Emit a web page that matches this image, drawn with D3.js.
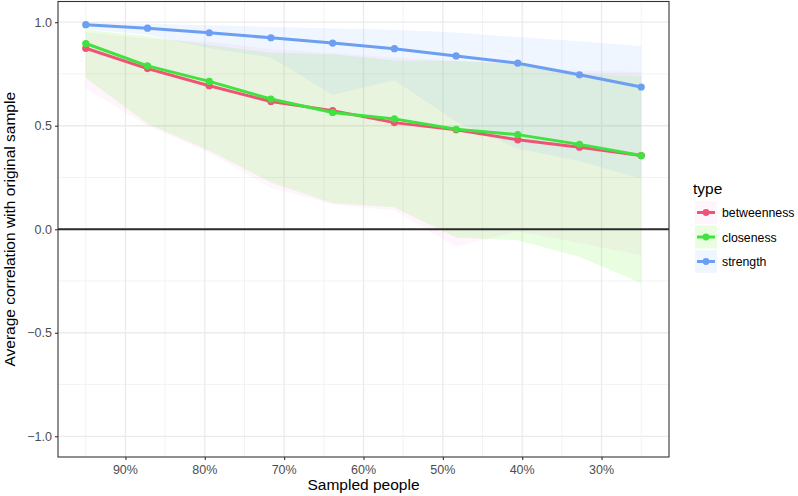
<!DOCTYPE html>
<html>
<head>
<meta charset="utf-8">
<script src="https://cdn.jsdelivr.net/npm/d3@7"></script>
<style>
  body { margin: 0; background: #fff; }
  svg { display: block; font-family: "Liberation Sans", Arial, sans-serif; }
</style>
</head>
<body>
<div id="chart"></div>
<script>
// sampled proportion of people (case-drop steps)
const sampled = [0.95, 0.8722, 0.7944, 0.7167, 0.6389, 0.5611, 0.4833, 0.4056, 0.3278, 0.25]
const types = ["betweenness", "closeness", "strength"]

// mean correlation per type
const betweennessMean = [0.874, 0.776, 0.693, 0.617, 0.573, 0.515, 0.480, 0.432, 0.396, 0.356]
const closenessMean   = [0.897, 0.789, 0.714, 0.629, 0.564, 0.533, 0.483, 0.457, 0.410, 0.356]
const strengthMean    = [0.988, 0.971, 0.949, 0.925, 0.899, 0.872, 0.837, 0.802, 0.746, 0.687]

// ribbon bounds
const betweennessLower = [0.68, 0.50, 0.37, 0.20, 0.12, 0.09, -0.085, -0.01, -0.067, -0.125]
const betweennessUpper = [0.95, 0.92, 0.905, 0.87, 0.85, 0.83, 0.815, 0.80, 0.765, 0.76]
const closenessLower   = [0.73, 0.51, 0.38, 0.226, 0.125, 0.106, -0.04, -0.053, -0.133, -0.26]
const closenessUpper   = [0.963, 0.932, 0.89, 0.853, 0.845, 0.815, 0.813, 0.797, 0.75, 0.74]
const strengthLower    = [0.966, 0.94, 0.875, 0.83, 0.65, 0.72, 0.52, 0.39, 0.33, 0.244]
const strengthUpper    = [1.0, 0.993, 0.985, 0.977, 0.97, 0.963, 0.95, 0.928, 0.908, 0.885]

const xTicks = [0.9, 0.8, 0.7, 0.6, 0.5, 0.4, 0.3]
const xMinor = [0.95, 0.85, 0.75, 0.65, 0.55, 0.45, 0.35, 0.25]
const yTicks = [-1, -0.5, 0, 0.5, 1]
const yMinor = [-0.75, -0.25, 0.25, 0.75]

const lineColors = {betweenness: "#EE5474", closeness: "#3FE23F", strength: "#6C9EF2"}
const fillColors = {betweenness: "#FF70D8", closeness: "#48EE08", strength: "#6AAEFF"}
const fillOpacity = {betweenness: 0.07, closeness: 0.12, strength: 0.11}

const series = types.map((t, i) => ({
    type: t,
    mean: [betweennessMean, closenessMean, strengthMean][i],
    lower: [betweennessLower, closenessLower, strengthLower][i],
    upper: [betweennessUpper, closenessUpper, strengthUpper][i]
}))

const width = 798
const height = 496
const margin = {top: 1.5, right: 129, bottom: 39, left: 58}
const innerWidth = width - margin.left - margin.right
const innerHeight = height - margin.top - margin.bottom

const svg = d3.select("#chart").append("svg")
              .attr("width", width)
              .attr("height", height)

const chart = svg.append("g")
                 .attr("transform", `translate(${margin.left}, ${margin.top})`)

// scales (x reversed: 95% on the left)
const xScale = d3.scaleLinear()
                 .domain([0.985, 0.215])
                 .range([0, innerWidth])
const yScale = d3.scaleLinear()
                 .domain([-1.1, 1.1])
                 .range([innerHeight, 0])

// grid
chart.append("g").selectAll("line").data(xMinor).join("line")
     .attr("x1", d => xScale(d)).attr("x2", d => xScale(d))
     .attr("y1", 0).attr("y2", innerHeight)
     .attr("stroke", "#F3F3F3").attr("stroke-width", 1)
chart.append("g").selectAll("line").data(yMinor).join("line")
     .attr("y1", d => yScale(d)).attr("y2", d => yScale(d))
     .attr("x1", 0).attr("x2", innerWidth)
     .attr("stroke", "#F3F3F3").attr("stroke-width", 1)
chart.append("g").selectAll("line").data(xTicks).join("line")
     .attr("x1", d => xScale(d)).attr("x2", d => xScale(d))
     .attr("y1", 0).attr("y2", innerHeight)
     .attr("stroke", "#EBEBEB").attr("stroke-width", 1.3)
chart.append("g").selectAll("line").data(yTicks).join("line")
     .attr("y1", d => yScale(d)).attr("y2", d => yScale(d))
     .attr("x1", 0).attr("x2", innerWidth)
     .attr("stroke", "#EBEBEB").attr("stroke-width", 1.3)

// ribbons
const area = d3.area()
               .x((d, i) => xScale(sampled[i]))
               .y0(d => yScale(d[0]))
               .y1(d => yScale(d[1]))
chart.append("g").selectAll("path").data(series).join("path")
     .attr("d", s => area(s.lower.map((v, i) => [v, s.upper[i]])))
     .attr("fill", s => fillColors[s.type])
     .attr("fill-opacity", s => fillOpacity[s.type])

// zero line
chart.append("line")
     .attr("x1", 0).attr("x2", innerWidth)
     .attr("y1", yScale(0)).attr("y2", yScale(0))
     .attr("stroke", "#2b2b2b").attr("stroke-width", 1.8)

// lines
const line = d3.line()
               .x((d, i) => xScale(sampled[i]))
               .y(d => yScale(d))
chart.append("g").selectAll("path").data(series).join("path")
     .attr("d", s => line(s.mean))
     .attr("fill", "none")
     .attr("stroke", s => lineColors[s.type])
     .attr("stroke-width", 3)
     .attr("stroke-linejoin", "round")

// points
series.forEach(s => {
    chart.append("g").selectAll("circle").data(s.mean).join("circle")
         .attr("cx", (d, i) => xScale(sampled[i]))
         .attr("cy", d => yScale(d))
         .attr("r", 3.6)
         .attr("fill", lineColors[s.type])
})

// panel border
chart.append("rect")
     .attr("width", innerWidth).attr("height", innerHeight)
     .attr("fill", "none")
     .attr("stroke", "#333").attr("stroke-width", 1.1)

// axes: tick marks from d3 axis, labels placed with the same scales
const xAxis = d3.axisBottom(xScale)
                .tickValues(xTicks)
                .tickFormat("")
                .tickSize(3)
const yAxis = d3.axisLeft(yScale)
                .tickValues(yTicks)
                .tickFormat("")
                .tickSize(3)
const gx = chart.append("g")
                .attr("transform", `translate(0, ${innerHeight})`)
                .call(xAxis)
const gy = chart.append("g").call(yAxis)
;[gx, gy].forEach(g => {
    g.select(".domain").remove()
    g.selectAll(".tick line").attr("stroke", "#333").attr("stroke-width", 1.1)
    g.selectAll(".tick text").remove()
})

const pct = d3.format(".0%")
const dec = d => d3.format(".1f")(d).replace("-", "\u2212")
svg.append("g").selectAll("text").data(xTicks).join("text")
   .attr("x", d => margin.left + xScale(d))
   .attr("y", margin.top + innerHeight + 17)
   .attr("text-anchor", "middle")
   .attr("font-size", "12.5px")
   .attr("fill", "#4D4D4D")
   .text(pct)
svg.append("g").selectAll("text").data(yTicks).join("text")
   .attr("x", margin.left - 6)
   .attr("y", d => margin.top + yScale(d) + 4.5)
   .attr("text-anchor", "end")
   .attr("font-size", "12.5px")
   .attr("fill", "#4D4D4D")
   .text(dec)

// axis titles
svg.append("text")
   .attr("x", margin.left + innerWidth / 2)
   .attr("y", 490)
   .attr("text-anchor", "middle")
   .attr("font-size", "15.5px")
   .attr("fill", "#000")
   .text("Sampled people")
svg.append("text")
   .attr("transform", `translate(15, ${margin.top + innerHeight / 2}) rotate(-90)`)
   .attr("text-anchor", "middle")
   .attr("font-size", "15.5px")
   .attr("fill", "#000")
   .text("Average correlation with original sample")

// legend
const legend = svg.append("g").attr("transform", "translate(695, 0)")
legend.append("text")
      .attr("x", -2).attr("y", 194)
      .attr("font-size", "15.5px")
      .text("type")
const keys = legend.selectAll("g.key").data(types).join("g")
                   .attr("class", "key")
                   .attr("transform", (d, i) => `translate(0, ${201 + i * 24.5})`)
keys.append("rect")
    .attr("width", 22).attr("height", 23)
    .attr("fill", d => fillColors[d]).attr("fill-opacity", d => fillOpacity[d])
keys.append("line")
    .attr("x1", 2).attr("x2", 20).attr("y1", 11.5).attr("y2", 11.5)
    .attr("stroke", d => lineColors[d]).attr("stroke-width", 3)
keys.append("circle")
    .attr("cx", 11).attr("cy", 11.5).attr("r", 3.4)
    .attr("fill", d => lineColors[d])
keys.append("text")
    .attr("x", 27).attr("y", 16)
    .attr("font-size", "12.3px")
    .text(d => d)
</script>
</body>
</html>
